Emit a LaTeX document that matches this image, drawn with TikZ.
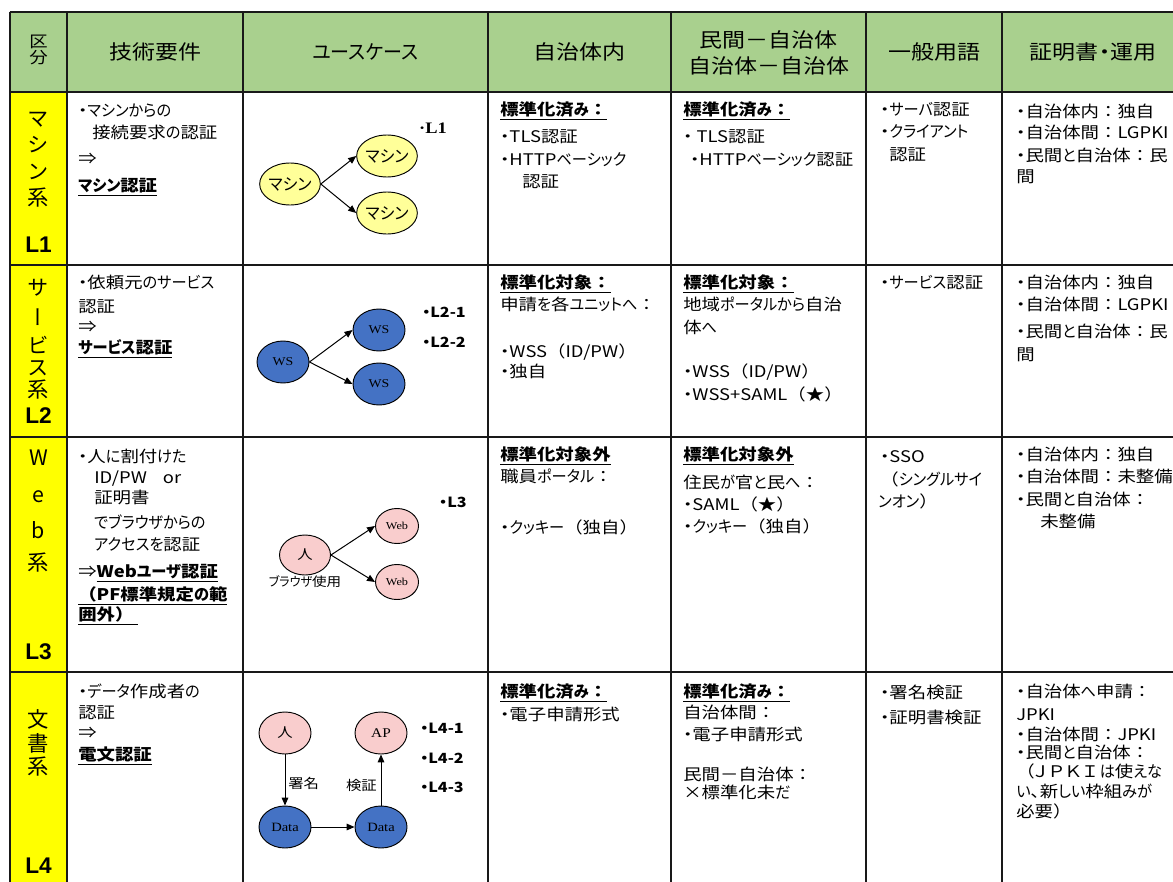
\documentclass[tikz,border=0pt]{standalone}
\usepackage{fontspec}
\setmainfont{Noto Sans CJK JP}[RawFeature={+palt},FakeStretch=1.15]
\newfontfamily\fw{Noto Sans CJK JP}[FakeStretch=1.15]
\newfontfamily\kanaf{Noto Sans CJK JP}[RawFeature={+palt},FakeStretch=0.95]
\newfontfamily\vf{Noto Sans CJK JP}[RawFeature={+vert}]
\newfontfamily\arialf{Liberation Sans}
\newfontfamily\timesf{Liberation Serif}[FakeStretch=1.15]
\usetikzlibrary{arrows.meta,shapes.geometric}
% narrower kana (the reference font has narrow kana)
\XeTeXinterchartokenstate=1
\newXeTeXintercharclass\KanaCls
\newcount\kc
\def\setkana#1#2{\kc=#1\relax \loop \XeTeXcharclass\kc=\KanaCls\relax \ifnum\kc<#2\relax \advance\kc by 1\relax \repeat}
\setkana{"3041}{"3096}
\setkana{"30A1}{"30FA}
\XeTeXcharclass"30FC=\KanaCls\relax
\kc=0\relax
\loop
  \XeTeXinterchartoks\kc\KanaCls={\kanaf}%
  \XeTeXinterchartoks\KanaCls\kc={\rmfamily}%
  \ifnum\kc<\numexpr\KanaCls-1\relax \advance\kc by 1\relax \repeat
\XeTeXinterchartoks 4095 \KanaCls={\kanaf}
\XeTeXinterchartoks \KanaCls 4095={\rmfamily}
\newcommand\nointerchar{\XeTeXinterchartokenstate=0\relax}
\definecolor{hdrgreen}{RGB}{169,208,142}
\definecolor{yelc}{RGB}{255,255,0}
\definecolor{paleyel}{RGB}{255,255,153}
\definecolor{blu}{RGB}{68,114,196}
\definecolor{pnk}{RGB}{249,205,205}
\definecolor{gridc}{RGB}{25,25,25}
\newcommand\LP{{\fw （}}
\newcommand\RP{{\fw ）}}
\newcommand\CL{{\fw ：}}
\newcommand\DS{{\fw －}}
\newcommand\ulb[1]{\setbox0=\hbox{\bfseries #1}\rlap{\rule[-0.3em]{\wd0}{0.1em}}\box0}
\newcounter{tlc}
\newcommand\txtline[3]{\stepcounter{tlc}\node[txt] (t\arabic{tlc}) at (#1,#2) {#3};}
\newcommand\vch[3]{\stepcounter{tlc}\node[vchar] (v\arabic{tlc}) at (#1,#2) {#3};}
\tikzset{
  gridline/.style={line width=1.5pt, draw=gridc},
  txt/.style={anchor=west, inner sep=0pt, text height=10pt, text depth=2pt, font=\fontsize{12}{14}\selectfont},
  hdr/.style={inner sep=0pt, align=center, font=\fontsize{15}{19.5}\selectfont},
  vchar/.style={inner sep=0pt, font=\nointerchar\vf\fontsize{16}{18}\selectfont},
  lvl/.style={inner sep=0pt, font=\arialf\bfseries\fontsize{17}{18}\selectfont},
  lab/.style={inner sep=0pt, font=\bfseries\fontsize{10.5}{12}\selectfont},
  circ/.style={ellipse, draw=black, line width=0.7pt, inner sep=0pt, minimum width=39pt, minimum height=31.5pt},
  ycirc/.style={circ, fill=paleyel, font=\fontsize{12.5}{13}\selectfont},
  bcirc/.style={circ, fill=blu, font=\timesf\fontsize{9}{10}\selectfont},
  pcirc/.style={circ, fill=pnk},
  arr/.style={-{Triangle[length=6pt,width=5pt]}, line width=0.75pt},
  small/.style={inner sep=0pt, font=\fontsize{10}{12}\selectfont},
}
\begin{document}
\begin{tikzpicture}[x=0.75pt,y=-0.75pt]
\useasboundingbox (0,0) rectangle (1173,881);
\clip (0,0) rectangle (1173,881);
\fill[white] (0,0) rectangle (1173,881);
\fill[hdrgreen] (9.5,12) rectangle (1200,92);
\fill[yelc] (9.5,92) rectangle (67,900);
\foreach \yy in {12,92,265,437,672} \draw[gridline] (9.5,\yy) -- (1200,\yy);
\foreach \xx in {9.5,67,243,488,671,866,1002} \draw[gridline] (\xx,12) -- (\xx,900);

% header
\node[inner sep=0pt, font=\fontsize{12}{14}\selectfont] (h0a) at (38.5,42) {区};
\node[inner sep=0pt, font=\fontsize{12}{14}\selectfont] (h0b) at (38.5,58) {分};
\node[hdr] (h1) at (155,52) {技術要件};
\node[hdr] (h2) at (365.5,52) {ユースケース};
\node[hdr] (h3) at (579.5,52) {自治体内};
\node[hdr] (h4) at (768.5,53) {民間\DS 自治体\\自治体\DS 自治体};
\node[hdr] (h5) at (934,52) {一般用語};
\node[hdr] (h6) at (1093,52) {証明書・運用};

% column 1
\vch{38.5}{120}{マ}\vch{38.5}{145}{シ}\vch{38.5}{172}{ン}\vch{38.5}{198}{系}
\node[lvl] (L1) at (38.5,245) {L1};
\vch{38.5}{288}{サ}\vch{38.5}{317}{ー}\vch{38.5}{345}{ビ}\vch{38.5}{368}{ス}\vch{38.5}{390}{系}
\node[lvl] (L2) at (38.5,416) {L2};
\vch{38.5}{458}{W}\vch{38.5}{497}{e}\vch{38.5}{530}{b}\vch{38.5}{563}{系}
\node[lvl] (L3) at (38.5,652) {L3};
\vch{38.5}{719}{文}\vch{38.5}{743}{書}\vch{38.5}{767}{系}
\node[lvl] (L4) at (38.5,866) {L4};

% row 1
\txtline{78}{111}{・マシンからの}
\txtline{92}{133}{接続要求の認証}
\txtline{78}{159}{⇒}
\txtline{78}{186}{\ulb{マシン認証}}
\txtline{500}{110}{\ulb{標準化済み\CL}}
\txtline{500}{137}{・TLS認証}
\txtline{500}{160}{・HTTPベーシック}
\txtline{522}{182}{認証}
\txtline{683}{110}{\ulb{標準化済み\CL}}
\txtline{683}{137}{・ TLS認証}
\txtline{690}{160}{・HTTPベーシック認証}
\txtline{880}{110}{・サーバ認証}
\txtline{880}{132}{・クライアント}
\txtline{889}{155}{認証}
\txtline{1016}{112}{・自治体内\CL 独自}
\txtline{1016}{133}{・自治体間\CL LGPKI}
\txtline{1016}{156}{・民間と自治体\CL 民}
\txtline{1016}{177}{間}

% row 2
\txtline{78}{283}{・依頼元のサービス}
\txtline{78}{307}{認証}
\txtline{78}{327}{⇒}
\txtline{78}{348}{\ulb{サービス認証}}
\txtline{500}{283}{\ulb{標準化対象\CL}}
\txtline{500}{305}{申請を各ユニットへ\CL}
\txtline{500}{352}{・WSS\LP ID/PW\RP}
\txtline{500}{372}{・独自}
\txtline{683}{283}{\ulb{標準化対象\CL}}
\txtline{683}{305}{地域ポータルから自治}
\txtline{683}{328}{体へ}
\txtline{683}{372}{・WSS\LP ID/PW\RP}
\txtline{683}{395}{・WSS+SAML\LP ★\RP}
\txtline{880}{283}{・サービス認証}
\txtline{1016}{283}{・自治体内\CL 独自}
\txtline{1016}{305}{・自治体間\CL LGPKI}
\txtline{1016}{332}{・民間と自治体\CL 民}
\txtline{1016}{355}{間}

% row 3
\txtline{78}{457}{・人に割付けた}
\txtline{94}{478}{ID/PW\hspace{1em}or}
\txtline{94}{498}{証明書}
\txtline{94}{523}{でブラウザからの}
\txtline{94}{545}{アクセスを認証}
\txtline{78}{572}{⇒\ulb{Webユーザ認証}}
\txtline{78}{595}{\ulb{\LP PF標準規定の範}}
\txtline{78}{615}{\ulb{囲外\RP\hspace{0.3em}}}
\txtline{500}{455}{\ulb{標準化対象外}}
\txtline{500}{477}{職員ポータル\CL}
\txtline{500}{528}{・クッキー\LP 独自\RP}
\txtline{683}{455}{\ulb{標準化対象外}}
\txtline{683}{483}{住民が官と民へ\CL}
\txtline{683}{505}{・SAML\LP ★\RP}
\txtline{683}{527}{・クッキー\LP 独自\RP}
\txtline{880}{457}{・SSO}
\txtline{880}{480}{\LP シングルサイ}
\txtline{878}{502}{ンオン\RP}
\txtline{1016}{455}{・自治体内\CL 独自}
\txtline{1016}{477}{・自治体間\CL 未整備}
\txtline{1016}{500}{・民間と自治体\CL}
\txtline{1040}{522}{未整備}

% row 4
\txtline{78}{692}{・データ作成者の}
\txtline{78}{713}{認証}
\txtline{78}{733}{⇒}
\txtline{78}{755}{\ulb{電文認証}}
\txtline{500}{692}{\ulb{標準化済み\CL}}
\txtline{500}{715}{・電子申請形式}
\txtline{683}{692}{\ulb{標準化済み\CL}}
\txtline{683}{713}{自治体間\CL}
\txtline{683}{735}{・電子申請形式}
\txtline{683}{775}{民間\DS 自治体\CL}
\txtline{683}{793}{×標準化未だ}
\txtline{880}{693}{・署名検証}
\txtline{880}{718}{・証明書検証}
\txtline{1016}{692}{・自治体へ申請\CL}
\txtline{1016}{715}{JPKI}
\txtline{1016}{735}{・自治体間\CL JPKI}
\txtline{1016}{753}{・民間と自治体\CL}
\txtline{1016}{772}{{\fw （}Ｊ\,Ｐ\,Ｋ\,Ｉ\,は使えな}
\txtline{1016}{792}{い、新しい枠組みが}
\txtline{1016}{812}{必要\RP}

% use case graphs
\node[ycirc] (m0) at (290,184) {マシン};
\node[ycirc] (m1) at (387,156) {マシン};
\node[ycirc] (m2) at (387,213) {マシン};
\node[inner sep=0pt, font=\timesf\bfseries\fontsize{12}{13}\selectfont] (lL1) at (433,128) {·L1};
\draw[arr] (m0.east) -- (m1.west);
\draw[arr] (m0.east) -- (m2.west);

\node[bcirc] (w0) at (283,362) {WS};
\node[bcirc] (w1) at (379,330) {WS};
\node[bcirc] (w2) at (379,384) {WS};
\node[lab] (lL21) at (444,312) {・L2-1};
\node[lab] (lL22) at (444,342) {・L2-2};
\draw[arr] (w0.east) -- (w1.west);
\draw[arr] (w0.east) -- (w2.west);

\node[pcirc, minimum width=38.25pt, minimum height=30pt, font=\fontsize{10}{11}\selectfont] (p0) at (305,555) {人};
\node[pcirc, minimum width=32.25pt, minimum height=26.25pt, font=\timesf\fontsize{8}{9}\selectfont] (web1) at (397,526) {Web};
\node[pcirc, minimum width=32.25pt, minimum height=26.25pt, font=\timesf\fontsize{8}{9}\selectfont] (web2) at (397,582) {Web};
\node[inner sep=0pt, font=\fontsize{9.5}{10}\selectfont] (brw) at (305,582) {ブラウザ使用};
\node[lab] (lL3) at (453,502) {・L3};
\draw[arr] (p0.east) -- (web1.west);
\draw[arr] (p0.east) -- (web2.west);

\node[pcirc, minimum height=31.5pt, font=\fontsize{10}{11}\selectfont] (q0) at (285,733) {人};
\node[pcirc, font=\timesf\fontsize{10}{11}\selectfont] (ap) at (381,733) {AP};
\node[bcirc, font=\timesf\fontsize{9.5}{11}\selectfont] (d1) at (285,827) {Data};
\node[bcirc, font=\timesf\fontsize{9.5}{11}\selectfont] (d2) at (381,827) {Data};
\draw[arr] (q0) -- (d1);
\draw[arr] (d1) -- (d2);
\draw[arr] (d2) -- (ap);
\node[small, anchor=west] (sig) at (288,783) {署名};
\node[small, anchor=east] (ver) at (377,785) {検証};
\node[lab] (lL41) at (442,728) {・L4-1};
\node[lab] (lL42) at (442,758) {・L4-2};
\node[lab] (lL43) at (442,787) {・L4-3};
\end{tikzpicture}
\end{document}
